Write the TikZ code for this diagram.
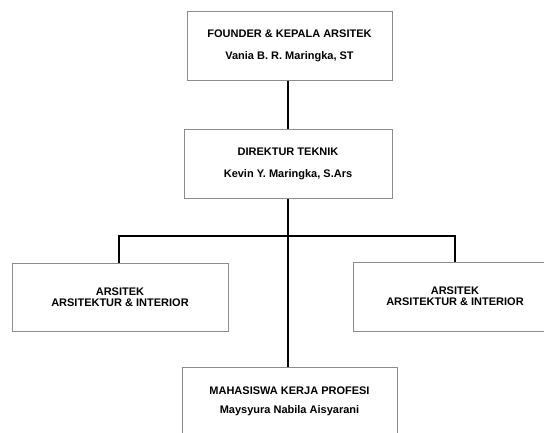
\documentclass[tikz,border=0pt]{standalone}
\usepackage{fontspec}
\setmainfont{Liberation Sans}
\begin{document}
\begin{tikzpicture}[x=1pt,y=-1pt,
    kotak/.style={draw=black!45,line width=1pt,fill=white,align=center,
      inner sep=0pt,font=\fontsize{11}{11}\selectfont\bfseries},
    garis/.style={draw=black,line width=1.6pt}]
    \useasboundingbox (0,0) rectangle (544,432);
    \clip (0,0) rectangle (544,432);
    \node[kotak,minimum width=205,minimum height=69] (founder) at (289.5,45.5)
      {FOUNDER \& KEPALA ARSITEK\\[11pt] Vania B. R. Maringka, ST};
    \node[kotak,minimum width=208,minimum height=69] (direktur) at (288,163.5)
      {DIREKTUR TEKNIK\\[11pt] Kevin Y. Maringka, S.Ars};
    \node[kotak,minimum width=216,minimum height=68] (arsitekA) at (120,297)
      {ARSITEK\\ ARSITEKTUR \& INTERIOR};
    \node[kotak,minimum width=204,minimum height=69] (arsitekB) at (455,296.5)
      {ARSITEK\\ ARSITEKTUR \& INTERIOR};
    \node[kotak,minimum width=215,minimum height=69] (mahasiswa) at (289.5,401.5)
      {MAHASISWA KERJA PROFESI\\[8pt] Maysyura Nabila Aisyarani};
    \coordinate (kiri) at (119,236);
    \coordinate (kanan) at (455,236);
    \draw[garis] (direktur.north |- founder.south) -- (direktur.north);
    \draw[garis] (direktur.south) -- (mahasiswa.north -| direktur.south);
    \draw[garis] (kiri |- arsitekA.north) -- (kiri) -- (kanan) -- (kanan |- arsitekB.north);
\end{tikzpicture}
\end{document}
